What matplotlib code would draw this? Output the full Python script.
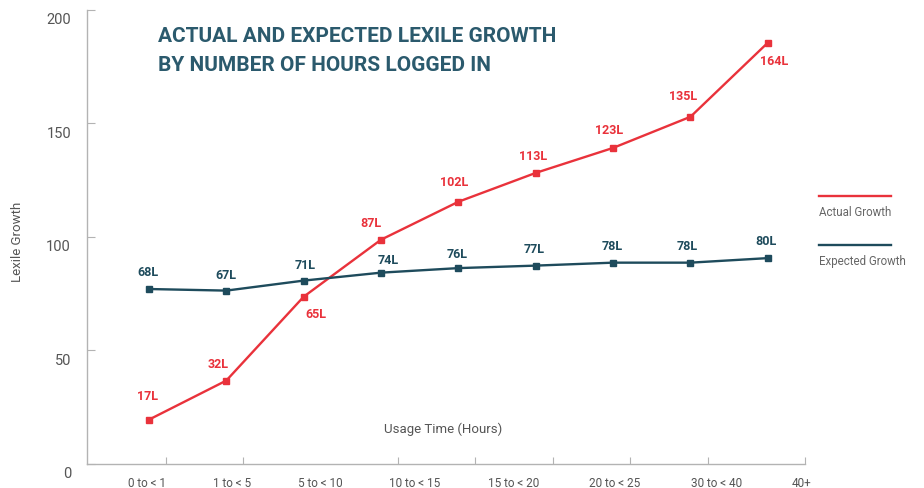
import numpy as np
import matplotlib
matplotlib.use('Agg')
import matplotlib.pyplot as plt
from matplotlib.lines import Line2D
from matplotlib.transforms import ScaledTranslation

# valeurs (position des points)
actual = [19.5, 36.7, 73.6, 98.7, 115.4, 128.1, 139.1, 152.8, 185.4]
expected = [77.0, 76.3, 80.7, 84.2, 86.2, 87.3, 88.6, 88.6, 90.6]
actual_labels = ['17L', '32L', '65L', '87L', '102L', '113L', '123L', '135L', '164L']
expected_labels = ['68L', '67L', '71L', '74L', '76L', '77L', '78L', '78L', '80L']
categories = ['0 to < 1', '1 to < 5', '5 to < 10', '10 to < 15', '15 to < 20',
              '20 to < 25', '30 to < 40', '40+']

# positions des textes (pixels, relatifs au point)
actual_off = [(-1, 24), (-8, 17), (12, -17), (-10, 17), (-4, 20), (-3, 17), (-4, 18), (-7, 21), (6, -18)]
expected_off = [(-1, 18), (0, 16), (1, 16), (7, 13), (-1, 15), (-2, 17), (-1, 17), (-3, 17), (-2, 18)]
cat_pos = [-0.03, 1.07, 2.22, 3.44, 4.71, 6.02, 7.34, 8.44]

RED = '#e9323b'
TEAL = '#1e4b5c'
GREY = '#555555'
SPINE = '#b3b3b3'

plt.rcParams['font.family'] = ['Roboto', 'DejaVu Sans']

fig = plt.figure(figsize=(9.24, 4.89), dpi=100)
ax = fig.add_axes([87/924, 1 - 465/489, (805 - 87)/924, (465 - 10.5)/489])

x = np.arange(len(actual))
ax.plot(x, actual, color=RED, lw=1.7, marker='s', ms=4.5, zorder=3)
ax.plot(x, expected, color=TEAL, lw=1.7, marker='s', ms=4.5, zorder=3)

for xi, yi, lab, (dx, dy) in zip(x, actual, actual_labels, actual_off):
    ax.annotate(lab, (xi, yi), xytext=(dx*0.72, dy*0.72), textcoords='offset points',
                ha='center', va='center', color=RED, fontsize=9, fontweight='bold')
for xi, yi, lab, (dx, dy) in zip(x, expected, expected_labels, expected_off):
    ax.annotate(lab, (xi, yi), xytext=(dx*0.72, dy*0.72), textcoords='offset points',
                ha='center', va='center', color=TEAL, fontsize=9, fontweight='bold')

ax.set_xlim(-0.80, 8.48)
ax.set_ylim(0, 200)

for s in ['top', 'right']:
    ax.spines[s].set_visible(False)
for s in ['left', 'bottom']:
    ax.spines[s].set_color(SPINE)
    ax.spines[s].set_linewidth(1.0)

ax.set_yticks([0, 50, 100, 150, 200])
ax.tick_params(axis='y', direction='in', length=6, width=0.8, color=SPINE,
               labelsize=10.5, labelcolor=GREY, pad=11.5)
off = ScaledTranslation(0, -0.08, fig.dpi_scale_trans)
for lab in ax.get_yticklabels():
    lab.set_transform(lab.get_transform() + off)

ax.set_xticks(cat_pos)
ax.set_xticklabels(categories)
ax.tick_params(axis='x', which='major', length=0, labelsize=8.5, labelcolor=GREY, pad=9)
ax.set_xticks(list(np.arange(8) + 0.22) + [8.48], minor=True)
ax.tick_params(axis='x', which='minor', direction='in', length=5, width=0.8, color=SPINE)

ax.text(3.8, 15.5, 'Usage Time (Hours)', ha='center', va='center', fontsize=9.5, color=GREY)
fig.text(18/924, 1 - 242/489, 'Lexile Growth', rotation=90, ha='center', va='center',
         fontsize=9.5, color=GREY)

fig.text(158/924, 1 - 71/489, 'ACTUAL AND EXPECTED LEXILE GROWTH\nBY NUMBER OF HOURS LOGGED IN',
         ha='left', va='baseline', fontsize=15, fontweight='bold', color='#2b5a6d',
         linespacing=1.7, family=['Liberation Sans Narrow', 'Roboto'])

# légende
for yp, col, name in [(196.7, RED, 'Actual Growth'), (246, TEAL, 'Expected Growth')]:
    fig.add_artist(Line2D([819/924, 891/924], [1 - yp/489, 1 - yp/489], color=col, lw=1.7))
    fig.text(819/924, 1 - (yp + 15.5)/489, name, ha='left', va='center', fontsize=8.3, color='#666666')

fig.savefig('out.png', dpi=100)
